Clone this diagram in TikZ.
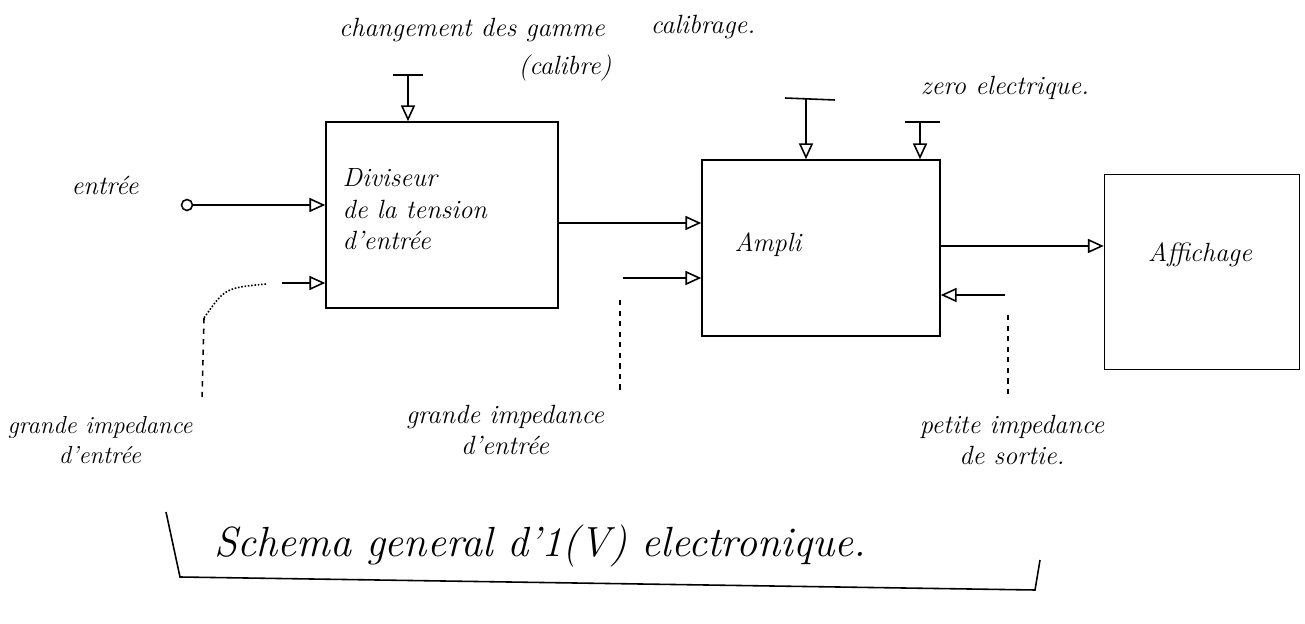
\documentclass[tikz,border=0pt]{standalone}
\usepackage{tikz}
\usetikzlibrary{arrows.meta}

\begin{document}
\begin{tikzpicture}[x=0.02cm,y=-0.02cm,line width=0.9pt,
  font=\fontsize{15}{18}\selectfont\itshape,
  box/.style={draw,rectangle,inner sep=0pt,line width=0.9pt},
  arr/.style={-{Triangle[open,length=9pt,width=8pt]}},
  lbl/.style={align=center,inner sep=1pt},
  small/.style={font=\fontsize{14}{17}\selectfont\itshape}]
  \useasboundingbox (0,0) rectangle (1305,624);
  % blocks
  \node[box,minimum width=4.64cm,minimum height=3.72cm] (div) at (442,215) {};
  \node[box,minimum width=4.76cm,minimum height=3.52cm] (ampli) at (821,248) {};
  \node[box,minimum width=3.9cm,minimum height=3.9cm] (aff) at (1202,272) {};
  \node[align=left,anchor=north west] (divtxt) at (336,162)
    {Diviseur\\de la tension\\d'entrée};
  \node (amptxt) at (768,245) {Ampli};
  \node (afftxt) at (1200,255) {Affichage};
  % input
  \node[circle,draw,inner sep=2.2pt] (in) at (187,205) {};
  \node (entree) at (105,185) {entrée};
  \draw[arr] (in) -- (in -| div.west);
  \coordinate (g1) at (282,283);
  \draw[arr] (g1) -- (g1 -| div.west);
  \draw[densely dotted] (266,284) .. controls (225,288) .. (204,318) coordinate (g1b);
  \draw[dashed] (g1b) -- (202,400);
  % between blocks
  \coordinate (d1) at (558,223);
  \draw[arr] (d1) -- (d1 -| ampli.west);
  \coordinate (g2) at (623,278);
  \draw[arr] (g2) -- (g2 -| ampli.west);
  \draw[dashed] (620,300) -- (620,392);
  \coordinate (a1) at (940,246);
  \draw[arr] (a1) -- (a1 -| aff.west);
  \coordinate (r1) at (1005,295);
  \draw[arr] (r1) -- (r1 -| ampli.east);
  \draw[dashed] (1008,315) -- (1008,398);
  % adjustments
  \draw (393,75) -- (423,75);
  \coordinate (p1) at (408,75);
  \draw[arr] (p1) -- (p1 |- div.north);
  \draw (785,98) -- (835,100);
  \coordinate (p2) at (806,99);
  \draw[arr] (p2) -- (p2 |- ampli.north);
  \draw (905,122) -- (940,122);
  \coordinate (p3) at (920,122);
  \draw[arr] (p3) -- (p3 |- ampli.north);
  % texts
  \node[lbl] (gamme) at (472,30) {changement des gamme};
  \node[lbl] (calibre) at (565,68) {(calibre)};
  \node[lbl] (calib) at (703,27) {calibrage.};
  \node[lbl] (zero) at (1005,88) {zero electrique.};
  \node[lbl,small] (zin1) at (100,440) {grande impedance\\d'entrée};
  \node[lbl] (zin2) at (505,430) {grande impedance\\d'entrée};
  \node[lbl] (zout) at (1012,440) {petite impedance\\de sortie.};
  % title bracket
  \node[font=\fontsize{24}{28}\selectfont\itshape] (titre) at (540,546)
    {Schema general d'1(V) electronique.};
  \draw (166,512) -- (180,577) -- (1035,590) -- (1040,560);
\end{tikzpicture}
\end{document}
